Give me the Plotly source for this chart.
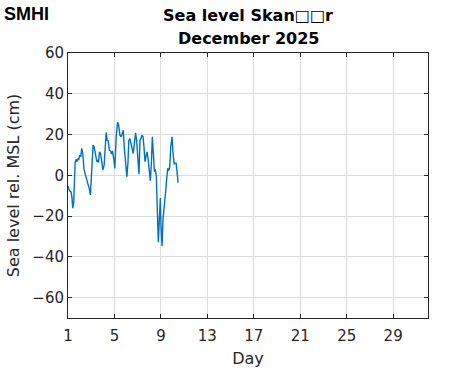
import plotly.graph_objects as go

days = [1.00, 1.12, 1.26, 1.35, 1.40, 1.49, 1.61, 1.69, 1.78, 1.86, 1.92, 2.01, 2.10, 2.18, 2.27,
        2.38, 2.50, 2.59, 2.73, 2.84, 2.93, 3.05, 3.16, 3.25, 3.36, 3.48, 3.56, 3.62, 3.71, 3.80,
        3.88, 4.00, 4.11, 4.20, 4.29, 4.37, 4.46, 4.57, 4.66, 4.75, 4.83, 4.95, 5.03, 5.15, 5.27,
        5.35, 5.47, 5.58, 5.67, 5.76, 5.84, 5.96, 6.07, 6.16, 6.24, 6.33, 6.42, 6.53, 6.62, 6.73,
        6.82, 6.91, 6.99, 7.05, 7.11, 7.20, 7.28, 7.37, 7.46, 7.54, 7.63, 7.71, 7.80, 7.89, 7.97,
        8.09, 8.18, 8.26, 8.35, 8.44, 8.52, 8.61, 8.69, 8.78, 8.84, 8.90, 8.95, 9.01, 9.10, 9.18,
        9.30, 9.42, 9.50, 9.59, 9.67, 9.76, 9.85, 9.96, 10.05, 10.14, 10.22, 10.31, 10.39, 10.48]
sea_level = [-5.2, -7.6, -8.0, -11.2, -16.1, -13.7, 5.9, 7.8, 6.7, 8.3, 7.5, 9.9, 9.1, 13.2, 10.7,
             2.9, 0.2, -1.5, -4.7, -6.8, -9.6, 2.6, 14.8, 14.0, 9.9, 6.7, 7.5, 6.3, 11.5, 10.7,
             7.8, 2.6, 5.0, 14.0, 21.0, 17.2, 16.9, 12.4, 12.0, 10.4, 12.0, 7.5, 3.4, 18.9, 26.0,
             25.0, 19.7, 18.9, 20.2, 22.1, 14.0, 4.2, -0.7, 5.9, 17.2, 18.0, 15.6, 13.2, 10.7, 16.4,
             20.8, 17.2, 9.1, 2.6, 0.5, 17.2, 18.0, 19.7, 18.9, 14.0, 6.7, 9.1, 11.5, 8.3, 2.6,
             -2.6, 5.9, 18.9, 10.7, 1.8, 2.9, -0.7, -16.9, -32.8, -25.0, -11.2, -11.2, -25.0, -34.8, -21.8,
             -12.0, -7.2, -1.5, 3.4, 2.3, 4.2, 14.0, 18.9, 10.7, 5.5, 5.9, 5.9, 1.8, -3.6]

x_ticks = [1, 5, 9, 13, 17, 21, 25, 29]
y_ticks = [-60, -40, -20, 0, 20, 40, 60]

title_lines = ["Sea level Skan\u25a1\u25a1r", "December 2025"]
x_title = "Day"
y_title = "Sea level rel. MSL (cm)"
logo_text = "SMHI"

font_family = "DejaVu Sans"
axis_col = "#262626"

L, R, T, B = 68, 43, 53, 53
W, H = 471, 371
pw, ph = W - L - R, H - T - B

fig = go.Figure()
fig.add_trace(go.Scatter(x=days, y=sea_level, mode="lines",
                         line=dict(color="#0072BD", width=1.4), showlegend=False))

fig.update_layout(
    width=W, height=H,
    margin=dict(l=L, r=R, t=T, b=B, autoexpand=False),
    paper_bgcolor="white", plot_bgcolor="white",
    font=dict(family=font_family, color=axis_col, size=15),
)
fig.update_xaxes(range=[1, 32], tickvals=x_ticks, ticktext=[str(v) for v in x_ticks],
                 showline=True, linecolor=axis_col, linewidth=1, mirror="ticks",
                 ticks="inside", ticklen=4, tickcolor=axis_col, automargin=False,
                 ticklabelstandoff=4,
                 showgrid=True, gridcolor="#dcdcdc", gridwidth=1, zeroline=False,
                 title=dict(text=x_title, standoff=8, font=dict(size=16)),
                 tickfont=dict(size=15))
fig.update_yaxes(range=[-70, 60], tickvals=y_ticks, ticktext=[str(v).replace("-", "\u2212") for v in y_ticks],
                 showline=True, linecolor=axis_col, linewidth=1, mirror="ticks",
                 ticks="inside", ticklen=4, tickcolor=axis_col, automargin=False,
                 showgrid=True, gridcolor="#dcdcdc", gridwidth=1, zeroline=False,
                 title=dict(text=y_title, standoff=8, font=dict(size=16)),
                 tickfont=dict(size=15))
for i, line in enumerate(title_lines):
    fig.add_annotation(text="<b>" + line + "</b>", xref="paper", yref="paper",
                       x=0.5, y=1 + (T - 15 - 23 * i) / ph, xanchor="center", yanchor="middle",
                       showarrow=False, font=dict(size=16, color="black", family=font_family))
fig.add_annotation(text="<b>" + logo_text + "</b>", xref="paper", yref="paper",
                   x=-(L - 2) / pw, y=1 + (T - 2) / ph, xanchor="left", yanchor="top", showarrow=False,
                   font=dict(family="Liberation Sans Narrow, Arial Narrow, sans-serif", size=18, color="black"))

fig.write_html("out.html", config={"displayModeBar": False},
               post_script="document.body.style.margin='0';")
